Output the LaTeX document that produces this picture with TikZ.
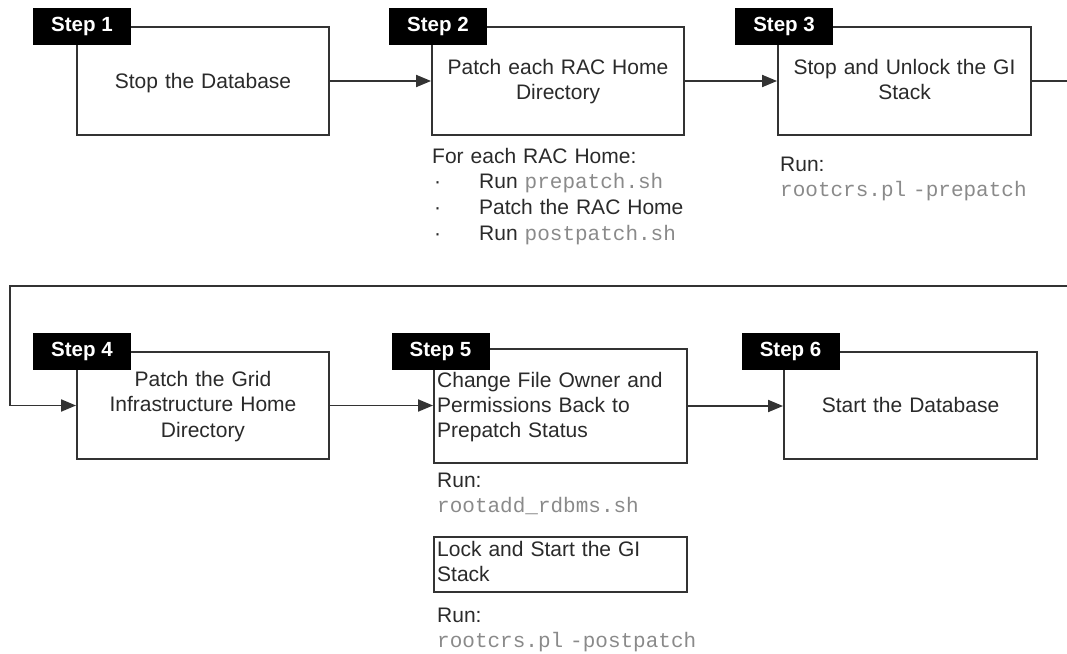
\documentclass[tikz,border=0pt]{standalone}
\usepackage{fontspec}
\setmainfont{Liberation Sans}
\setmonofont{Liberation Mono}[WordSpace={1,0,0},PunctuationSpace=WordSpace]
\usetikzlibrary{arrows.meta}
\definecolor{linec}{HTML}{333333}
\definecolor{txtc}{HTML}{2A2A2A}
\definecolor{monoc}{HTML}{8A8A8A}
\newcommand{\mono}[1]{{\color{monoc}\ttfamily #1}}
\tikzset{
  box/.style={draw=linec, line width=1.9pt, fill=white, inner sep=0pt},
  tab/.style={fill=black, text=white, inner sep=0pt, minimum width=98pt, minimum height=37pt,
    font=\fontsize{20.5}{24}\selectfont\bfseries},
  boxtxt/.style={anchor=base, inner sep=0pt, text width=250pt, align=center, text=txtc,
    font=\fontsize{21}{25.7}\selectfont},
  boxtxtl/.style={anchor=base west, inner sep=0pt, text width=250pt, align=left, text=txtc,
    font=\fontsize{21}{25}\selectfont},
  ann/.style={anchor=base west, inner sep=0pt, text width=300pt, align=left, text=txtc,
    font=\fontsize{21}{25.7}\selectfont},
  conn/.style={draw=linec, line width=1.9pt},
  arr/.style={conn, -{Triangle[length=15pt,width=12pt]}}
}
\begin{document}
\begin{tikzpicture}[x=1pt,y=-1pt]
\useasboundingbox (0,0) rectangle (1067,653);
% boxes
\node[box, minimum width=252pt, minimum height=108pt] (b1) at (203,81) {};
\node[box, minimum width=252pt, minimum height=108pt] (b2) at (558,81) {};
\node[box, minimum width=253pt, minimum height=108pt] (b3) at (904.5,81) {};
\node[box, minimum width=252pt, minimum height=107pt] (b4) at (203,405.5) {};
\node[box, minimum width=253pt, minimum height=114pt] (b5) at (560.5,406) {};
\node[box, minimum width=253pt, minimum height=107pt] (b6) at (910.5,405.5) {};
\node[box, minimum width=253pt, minimum height=55pt] (lock) at (560.5,564.5) {};
% tabs
\node[tab] (t1) at (82,26.5) {Step 1};
\node[tab] (t2) at (438,26.5) {Step 2};
\node[tab] (t3) at (784,26.5) {Step 3};
\node[tab] (t4) at (82,351.5) {Step 4};
\node[tab] (t5) at (440.5,351.5) {Step 5};
\node[tab] (t6) at (790.5,351.5) {Step 6};
% box texts
\node[boxtxt] (x1) at (203,88) {Stop the Database};
\node[boxtxt] (x2) at (558,74) {Patch each RAC Home\\Directory};
\node[boxtxt] (x3) at (904.5,74) {Stop and Unlock the GI\\Stack};
\node[boxtxt] (x4) at (203,386) {Patch the Grid\\Infrastructure Home\\Directory};
\node[boxtxtl] (x5) at (437,387) {Change File Owner and\\Permissions Back to\\Prepatch Status};
\node[boxtxt] (x6) at (910.5,412) {Start the Database};
\node[boxtxtl] (xl) at (437,556) {Lock and Start the GI\\Stack};
% annotations
\node[ann] (a2) at (432,163) {For each RAC Home:\\
\makebox[47pt][l]{\kern2pt·}Run \mono{prepatch.sh}\\
\makebox[47pt][l]{\kern2pt·}Patch the RAC Home\\
\makebox[47pt][l]{\kern2pt·}Run \mono{postpatch.sh}};
\node[ann] (a3) at (780,171) {Run:\\\mono{rootcrs.pl -prepatch}};
\node[ann] (a5) at (437,487) {Run:\\\mono{rootadd\_rdbms.sh}};
\node[ann] (a6) at (437,622) {Run:\\\mono{rootcrs.pl -postpatch}};
% connectors
\coordinate (r1) at (1067,81);
\coordinate (l1) at (1067,286);
\coordinate (l2) at (10,286);
\draw[arr] (b1.east) -- (b2.west);
\draw[arr] (b2.east) -- (b3.west);
\draw[conn] (b3.east) -- (r1);
\draw[arr] (l1) -- (l2) |- (b4.west);
\draw[arr] (b4.east) -- (b4.east -| b5.west);
\draw[arr] (b5.east) -- (b5.east -| b6.west);
\end{tikzpicture}
\end{document}
